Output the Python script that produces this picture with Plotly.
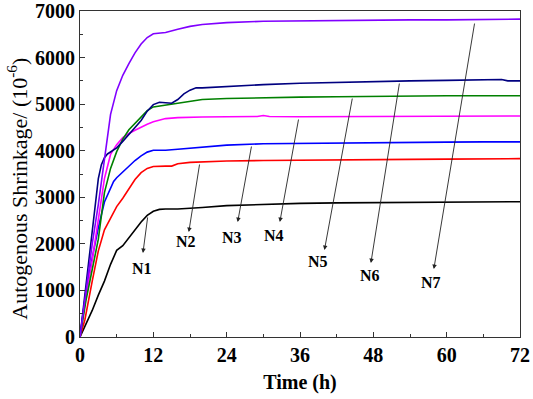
import plotly.graph_objects as go

# ---- data ----
t_n1 = [0, 1, 2, 3, 4, 5, 6, 7, 8, 9, 10, 11, 12, 13, 14, 16, 18, 20, 24, 30, 36, 42, 48, 54, 60, 66, 72]
v_n1 = [0, 280, 570, 900, 1200, 1560, 1860, 1960, 2130, 2300, 2470, 2610, 2700, 2740, 2750, 2750, 2760, 2780,
        2820, 2850, 2870, 2880, 2885, 2890, 2895, 2900, 2905]

t_n2 = [0, 0.8, 2, 3, 4, 5, 6, 7, 8, 9, 10, 11, 12, 13, 14, 15, 16, 18, 20, 24, 30, 36, 42, 48, 54, 60, 66, 72]
v_n2 = [0, 370, 1200, 1850, 2300, 2560, 2800, 2980, 3180, 3380, 3530, 3620, 3660, 3670, 3670, 3670, 3720, 3750,
        3760, 3780, 3790, 3800, 3800, 3810, 3815, 3820, 3825, 3830]

t_n3 = [0, 1, 2, 3, 4, 5, 5.5, 6, 7, 8, 9, 10, 11, 12, 14, 16, 18, 20, 24, 30, 36, 42, 48, 54, 60, 66, 72]
v_n3 = [0, 1000, 1700, 2350, 2900, 3200, 3340, 3420, 3550, 3680, 3790, 3890, 3970, 4010, 4010, 4030, 4050, 4070,
        4120, 4150, 4160, 4170, 4175, 4180, 4185, 4190, 4190]

t_n4 = [0, 1, 2, 3, 4, 5, 6, 7, 8, 9, 10, 11, 12, 14, 16, 18, 20, 24, 29, 30, 31, 36, 42, 48, 54, 60, 66, 72]
v_n4 = [0, 900, 1650, 2500, 3400, 3920, 4130, 4280, 4370, 4440, 4510, 4570, 4620, 4690, 4710, 4720, 4725, 4730,
        4735, 4755, 4735, 4730, 4730, 4730, 4735, 4740, 4745, 4745]

t_n5 = [0, 1, 2, 3, 4, 5, 6, 7, 8, 9, 10, 11, 12, 13, 14, 16, 18, 20, 24, 30, 36, 42, 48, 54, 60, 66, 72]
v_n5 = [0, 800, 1450, 2100, 3100, 3620, 3980, 4250, 4450, 4590, 4720, 4860, 4940, 4960, 4980, 5030, 5070, 5100,
        5120, 5140, 5150, 5160, 5170, 5175, 5180, 5180, 5180]

t_n6 = [0, 1, 2, 3, 3.5, 4, 4.5, 5, 6, 7, 8, 9, 10, 11, 12, 13, 14, 15, 16, 17, 18, 19, 20, 24, 30, 36, 42, 48,
        54, 60, 66, 69, 70, 72]
v_n6 = [0, 1100, 2300, 3400, 3700, 3850, 3930, 3980, 4060, 4200, 4340, 4500, 4650, 4850, 4990, 5040, 5030, 5020,
        5100, 5220, 5300, 5350, 5350, 5380, 5420, 5450, 5470, 5490, 5500, 5510, 5520, 5530, 5500, 5500]

t_n7 = [0, 1, 2, 3, 4, 5, 6, 7, 8, 9, 10, 11, 12, 13, 14, 16, 18, 20, 24, 30, 36, 42, 48, 54, 60, 66, 70, 72]
v_n7 = [0, 1000, 2000, 2850, 3850, 4780, 5290, 5620, 5870, 6100, 6290, 6430, 6510, 6530, 6540, 6610, 6670, 6710,
        6750, 6780, 6790, 6800, 6800, 6810, 6810, 6815, 6820, 6825]

series_names = ["N1", "N2", "N3", "N4", "N5", "N6", "N7"]
series_t = [t_n1, t_n2, t_n3, t_n4, t_n5, t_n6, t_n7]
series_v = [v_n1, v_n2, v_n3, v_n4, v_n5, v_n6, v_n7]
colors = ["#000000", "#FF0000", "#0000FF", "#FF00FF", "#008000", "#000080", "#8000FF"]

x_ticks = [0, 12, 24, 36, 48, 60, 72]
y_ticks = [0, 1000, 2000, 3000, 4000, 5000, 6000, 7000]

# annotation geometry: (tail on curve, arrow head, label position) in data units
label_tail = [(11.1, 2600), (19.6, 3736), (28.1, 4122), (35.8, 4702), (44.6, 5153), (52.3, 5475), (64.6, 6763)]
label_head = [(10.3, 1804), (17.8, 2254), (25.8, 2469), (32.7, 2469), (40.0, 1868), (47.6, 1589), (57.9, 1460)]
label_pos = [(10.1, 1470), (17.3, 2040), (24.8, 2147), (31.7, 2190), (38.9, 1632), (47.4, 1310), (57.4, 1181)]

FONT = "Liberation Serif"

fig = go.Figure()
for name, tt, vv, c in zip(series_names, series_t, series_v, colors):
    fig.add_trace(go.Scatter(x=tt, y=vv, mode="lines", name=name,
                             line=dict(color=c, width=1.6)))

annotations = []
for name, tail, head, pos in zip(series_names, label_tail, label_head, label_pos):
    annotations.append(dict(x=head[0], y=head[1], ax=tail[0], ay=tail[1],
                            xref="x", yref="y", axref="x", ayref="y",
                            text="", showarrow=True, arrowhead=2, arrowsize=1,
                            arrowwidth=0.9, arrowcolor="#222222", standoff=0))
    annotations.append(dict(x=pos[0], y=pos[1], xref="x", yref="y", text=name,
                            showarrow=False,
                            font=dict(family=FONT, size=16, color="black", weight="bold")))

# y-axis title placed as a rotated annotation (slightly below the plot centre, as in the reference)
annotations.append(dict(x=-0.143, y=0.455, xref="paper", yref="paper",
                        text="Autogenous Shrinkage/ (10<sup>-6</sup>)", textangle=-90,
                        showarrow=False, xanchor="center", yanchor="middle",
                        font=dict(family=FONT, size=22, color="black")))

fig.update_layout(
    width=533, height=399,
    margin=dict(l=80, r=13, t=11, b=62, autoexpand=False),
    paper_bgcolor="white", plot_bgcolor="white",
    showlegend=False,
    annotations=annotations,
    xaxis=dict(range=[0, 72], tickmode="array", tickvals=x_ticks, automargin=False,
               ticks="inside", ticklen=5, tickcolor="#333333",
               minor=dict(ticks="inside", ticklen=3, dtick=6, tick0=0, tickcolor="#333333"),
               showline=True, linecolor="#333333", linewidth=1, mirror=True,
               showgrid=False, zeroline=False,
               tickfont=dict(family=FONT, size=20, color="black", weight="bold"),
               title=dict(text="Time (h)", standoff=9,
                          font=dict(family=FONT, size=20, color="black", weight="bold"))),
    yaxis=dict(range=[0, 7000], tickmode="array", tickvals=y_ticks, automargin=False,
               ticks="inside", ticklen=5, tickcolor="#333333",
               minor=dict(ticks="inside", ticklen=3, dtick=500, tick0=0, tickcolor="#333333"),
               showline=True, linecolor="#333333", linewidth=1, mirror=True,
               showgrid=False, zeroline=False,
               tickfont=dict(family=FONT, size=20, color="black", weight="bold")),
)

fig.write_html("out.html", config={"displayModeBar": False},
               post_script="document.body.style.margin='0px';document.body.style.overflow='hidden';")
